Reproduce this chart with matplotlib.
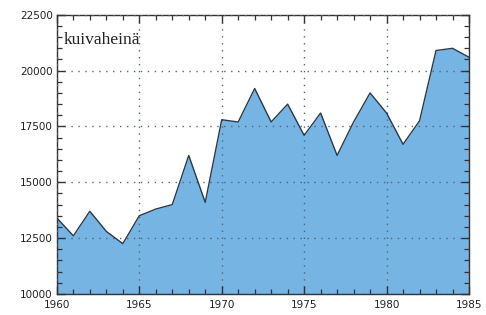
import numpy as np
import matplotlib
matplotlib.use("Agg")
import matplotlib.pyplot as plt
from matplotlib.ticker import MultipleLocator

years = np.arange(1960, 1986)
values = [13400, 12600, 13700, 12800, 12250, 13500, 13800, 14000, 16200, 14100,
          17800, 17700, 19200, 17700, 18500, 17100, 18100, 16200, 17700, 19000,
          18100, 16700, 17750, 20900, 21000, 20600]
label = "kuivaheinä"

fill_col = "#76b4e4"
ink = "#333333"

fig = plt.figure(figsize=(4.86, 3.15), dpi=100)
ax = fig.add_axes([0.117, 0.067, 0.848, 0.886])

ax.fill_between(years, 10000, values, color=fill_col, lw=0, zorder=1)
ax.plot(years, values, color="#2a3a4a", lw=1.0, zorder=3)

ax.set_xlim(1960, 1985)
ax.set_ylim(10000, 22500)
ax.xaxis.set_major_locator(MultipleLocator(5))
ax.xaxis.set_minor_locator(MultipleLocator(1))
ax.yaxis.set_major_locator(MultipleLocator(2500))
ax.yaxis.set_minor_locator(MultipleLocator(500))

ax.tick_params(which="both", direction="in", top=True, right=True, colors=ink,
               labelsize=7.5, labelcolor="#222222")
ax.tick_params(which="major", length=6, width=1.0)
ax.tick_params(which="minor", length=3.5, width=0.9)
ax.tick_params(axis="x", pad=4.5)
ax.tick_params(axis="y", pad=3)

ax.grid(which="major", linestyle=(0, (1, 4)), color="#556677", lw=1.0, zorder=2)
ax.set_axisbelow(False)
for s in ax.spines.values():
    s.set_color(ink)
    s.set_linewidth(1.0)

ax.text(0.017, 0.91, label, transform=ax.transAxes, fontsize=12.5,
        family="Liberation Serif", color="#222222", va="center", ha="left")

fig.savefig("out.png", dpi=100)
